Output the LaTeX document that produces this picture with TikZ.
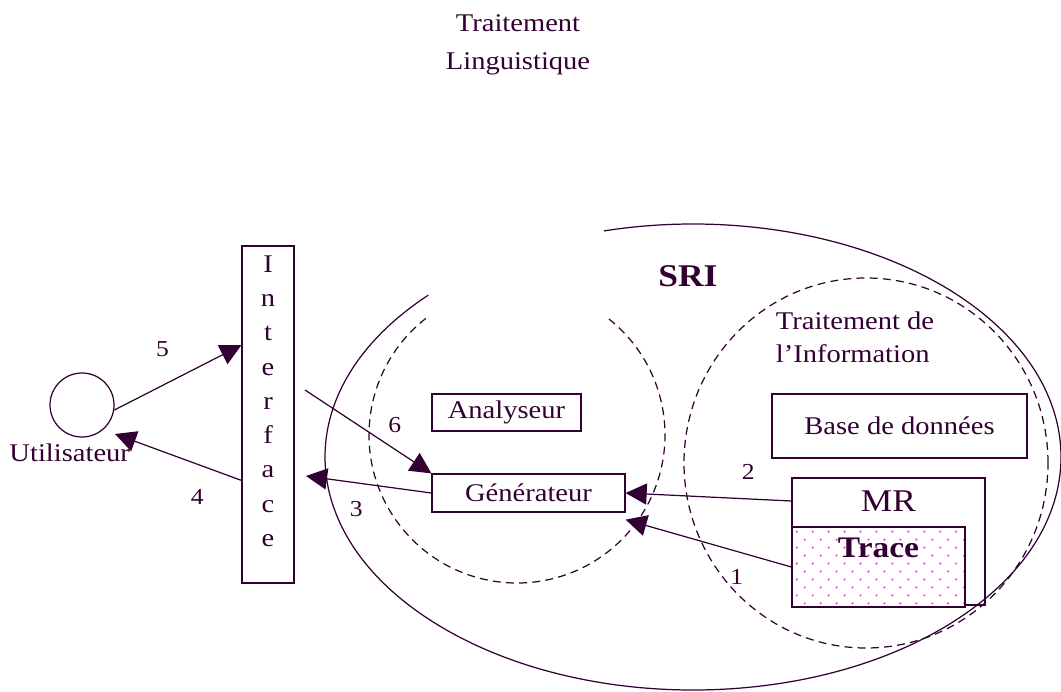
\documentclass[tikz,border=0pt]{standalone}
\usepackage{fontspec}
\setmainfont[FakeStretch=1.12]{Liberation Serif}
\usetikzlibrary{arrows.meta,positioning,patterns}

\definecolor{ink}{RGB}{50,0,50}
\definecolor{dotpink}{RGB}{215,110,215}

\pgfdeclarepatternformonly{tracedots}{\pgfqpoint{-1pt}{-1pt}}{\pgfqpoint{8pt}{8pt}}{\pgfqpoint{9.07pt}{9.07pt}}{%
  \pgfpathcircle{\pgfqpoint{0pt}{0pt}}{0.75pt}%
  \pgfpathcircle{\pgfqpoint{4.535pt}{4.535pt}}{0.75pt}%
  \pgfusepath{fill}}

\tikzset{
  box/.style={draw=ink, line width=0.7pt, inner sep=0pt},
  zone/.style={draw=ink, line width=0.7pt, dash pattern=on 4.5pt off 3pt},
  arr/.style={draw=ink, line width=0.7pt, -{Triangle[length=12pt,width=12pt]}},
  lbl/.style={text=ink, inner sep=1pt, font=\fontsize{13}{15}\selectfont}
}

\begin{document}
\begin{tikzpicture}[x=0.02cm, y=0.02cm, text=ink, font=\fontsize{14.5}{17}\selectfont]
    \useasboundingbox (0,0) rectangle (1061,691);

    % zones
    \coordinate (sric) at (693,234);
    \coordinate (lingc) at (517,256);
    \coordinate (infoc) at (866,228);
    \draw[draw=ink, line width=0.7pt] (sric) ++(136:368 and 233) arc[start angle=136, end angle=464, x radius=368, y radius=233];
    \draw[zone] (lingc) ++(128:148) arc[start angle=128, end angle=412, radius=148];
    \draw[zone] (infoc) ellipse[x radius=182, y radius=185];

    \node (titre) at (518,646) [align=center, font=\fontsize{14.5}{21.5}\selectfont] {Traitement\\Linguistique};
    \node (sri) at (688,415) [font=\fontsize{18}{20}\selectfont\bfseries] {SRI};
    \node (info) at (855,354) [align=left, font=\fontsize{14.5}{18.7}\selectfont] {Traitement de\\l'Information};

    % utilisateur et interface
    \node (user) at (82,286) [circle, draw=ink, line width=0.7pt, minimum size=1.28cm, inner sep=0pt] {};
    \node (userlbl) [below=0pt of user, xshift=-7pt] {Utilisateur};
    \node (iface) at (268,276.5) [box, minimum width=1.04cm, minimum height=6.74cm] {};
    \node (ifacetxt) at ([yshift=7.6pt]iface.center) [align=center, font=\fontsize{14.5}{19.5}\selectfont] {I\\n\\t\\e\\r\\f\\a\\c\\e};

    % modules
    \node (ana) at (506.5,278.5) [box, minimum width=2.98cm, minimum height=0.74cm] {Analyseur};
    \node (gen) at (528.5,198) [box, minimum width=3.86cm, minimum height=0.76cm] {Générateur};
    \node (bdd) at (899.5,265) [box, minimum width=5.1cm, minimum height=1.28cm] {Base de données};
    \node (mr) at (888.5,149.5) [box, minimum width=3.86cm, minimum height=2.54cm] {};
    \node (mrlbl) [below=4pt of mr.north, font=\fontsize{18}{20}\selectfont] {MR};
    \node (trace) at (878.5,124) [box, minimum width=3.46cm, minimum height=1.6cm, preaction={fill=white}, pattern=tracedots, pattern color=dotpink] {};
    \node (tracelbl) [below=3pt of trace.north, font=\fontsize{17}{20}\selectfont\bfseries] {Trace};

    % fleches
    \coordinate (u4) at (115,257);
    \coordinate (c6) at (305,301);
    \coordinate (c3) at (306,215);
    \draw[arr] (user.-9) -- (iface.111) node[lbl, pos=0.38, above=15pt] {5};
    \draw[arr] (iface.248) -- (u4) node[lbl, pos=0.35, below=13pt] {4};
    \draw[arr] (c6) -- (gen.north west) node[lbl, pos=0.71, above=8pt] {6};
    \draw[arr] (gen.west) -- (c3) node[lbl, pos=0.6, below=9.5pt] {3};
    \draw[arr] (mr.west |- mrlbl) -- (gen.east) node[lbl, pos=0.26, above=9.7pt] {2};
    \draw[arr] (trace.west) -- ([yshift=-4pt]gen.south east) node[lbl, pos=0.33, below=9pt] {1};
\end{tikzpicture}
\end{document}
